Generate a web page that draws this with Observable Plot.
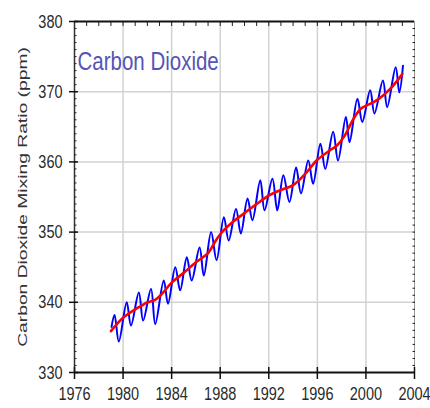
<!DOCTYPE html>
<html><head><meta charset="utf-8">
<script src="https://cdn.jsdelivr.net/npm/d3@7"></script>
<script src="https://cdn.jsdelivr.net/npm/@observablehq/plot@0.6"></script>
<style>
html,body{margin:0;padding:0;background:#fff;}
#chart{width:430px;height:408px;overflow:hidden;}
</style></head><body><div id="chart"></div>
<script>
const title = "Carbon Dioxide";
const yLabel = "Carbon Dioxide Mixing Ratio (ppm)";
const xDomain = [1976, 2004];
const yDomain = [330, 380];
const xTicks = [1976, 1980, 1984, 1988, 1992, 1996, 2000, 2004];
const yTicks = [330, 340, 350, 360, 370, 380];
const xGrid = [1980, 1984, 1988, 1992, 1996, 2000];
const yGrid = [340, 350, 360, 370];
const xMinor = d3.range(1977, 2004);
const yMinor = d3.range(331, 380);

// seasonal (blue) curve: turning points
const seasonalYears = [1979.05,1979.3,1979.65,1980.3,1980.65,1981.3,1981.65,1982.3,1982.65,1983.35,1983.7,
  1984.3,1984.7,1985.25,1985.65,1986.3,1986.65,1987.25,1987.7,1988.3,1988.7,1989.3,1989.7,1990.25,1990.65,
  1991.3,1991.65,1992.3,1992.7,1993.2,1993.7,1994.25,1994.65,1995.25,1995.65,1996.25,1996.65,1997.3,1997.7,
  1998.35,1998.65,1999.3,1999.7,2000.35,2000.7,2001.4,2001.75,2002.45,2002.75,2003.05];
const seasonalCO2 = [336.5,338.2,334.4,340.0,336.7,341.4,337.4,341.9,336.9,343.1,339.8,
  345.0,341.7,346.4,343.1,347.8,343.8,350.0,346.0,352.1,348.8,353.3,349.8,354.8,351.7,
  357.4,353.1,357.6,353.1,358.1,354.3,359.2,355.5,360.2,356.9,362.6,359.0,364.3,360.2,
  366.4,362.8,369.0,365.7,370.2,366.9,371.6,367.8,373.5,369.9,373.7];

// deseasonalized trend (red)
const trendYears = [1979.0,1980.0,1981.0,1981.5,1982.0,1982.6,1983.2,1984.0,1985.0,1986.0,1987.0,1987.5,1988.0,
  1989.0,1990.0,1991.0,1992.0,1993.0,1994.0,1995.0,1996.0,1997.0,1997.6,1998.2,1999.0,1999.6,2000.5,2001.0,2002.0,2003.0];
const trendCO2 = [335.9,337.8,339.0,339.5,340.0,340.3,341.2,342.8,344.2,345.7,347.0,348.4,349.7,
  351.4,352.7,354.0,355.2,356.0,356.7,358.3,360.3,361.6,362.3,363.6,366.2,367.6,368.4,368.9,370.4,372.5];

const seasonal = seasonalYears.map((t, i) => ({t, v: seasonalCO2[i]}));
const trend = trendYears.map((t, i) => ({t, v: trendCO2[i]}));
const none = () => "";

const chart = Plot.plot({
  width: 430, height: 408,
  marginLeft: 74, marginRight: 16, marginTop: 21, marginBottom: 36,
  style: {fontFamily: "'Liberation Sans', Arial, sans-serif", background: "#fff"},
  x: {domain: xDomain},
  y: {domain: yDomain},
  marks: [
    Plot.gridX(xGrid, {stroke: "#d2d2d2", strokeOpacity: 1, strokeWidth: 1.5}),
    Plot.gridY(yGrid, {stroke: "#d2d2d2", strokeOpacity: 1, strokeWidth: 1.5}),
    Plot.ruleX([xDomain[1]], {stroke: "#999", strokeWidth: 1}),
    Plot.ruleX([xDomain[0]], {stroke: "#333", strokeWidth: 1.5}),
    Plot.axisY(yMinor, {anchor: "left", tickSize: 2.5, dx: 2.5, tickFormat: none, label: null, stroke: "#222"}),
    Plot.axisY(yMinor, {anchor: "right", tickSize: 2.5, dx: -2.5, tickFormat: none, label: null, stroke: "#222"}),
    Plot.axisY(yTicks, {anchor: "left", tickSize: 9, dx: 4, tickFormat: none, label: null, stroke: "#111", strokeWidth: 1.5}),
    Plot.axisX(xMinor, {anchor: "top", tickSize: 4, dy: 4, tickFormat: none, label: null, stroke: "#222"}),
    Plot.axisX(xTicks, {anchor: "bottom", tickSize: 12, dy: -5, tickFormat: none, label: null, stroke: "#111", strokeWidth: 1.5}),
    Plot.ruleY([yDomain[1]], {stroke: "#111", strokeWidth: 2}),
    Plot.ruleY([yDomain[0]], {stroke: "#111", strokeWidth: 2}),
    Plot.text(yTicks, {y: d => d, text: d => String(d), frameAnchor: "left", dx: -12, textAnchor: "end", fontSize: 14.5, fill: "#2a2a2a"}),
    Plot.text(xTicks, {x: d => d, text: d => String(d), frameAnchor: "bottom", dy: 27, fontSize: 14.5, fill: "#2a2a2a"}),
    Plot.text([yLabel], {frameAnchor: "left", dx: -52, rotate: -90, textAnchor: "middle", fontSize: 13.5, fill: "#333"}),
    Plot.text([title], {frameAnchor: "top-left", dx: 3, dy: 30, textAnchor: "start", fontSize: 20.5, fill: "#5555b5"}),
    Plot.line(seasonal, {x: "t", y: "v", stroke: "#0000ff", strokeWidth: 2, curve: "catmull-rom"}),
    Plot.line(trend, {x: "t", y: "v", stroke: "#ff0000", strokeWidth: 2.6, curve: "catmull-rom"})
  ]
});
document.getElementById("chart").appendChild(chart);

// the reference glyphs are drawn taller than wide: stretch text along the page's vertical
const k = 1.3;
const labelLength = 300;
chart.querySelectorAll("text").forEach(t => {
  const tr = t.getAttribute("transform") || "";
  if (tr.includes("rotate")) {
    const len = t.getComputedTextLength() || 210;
    t.setAttribute("transform", `${tr} scale(${labelLength / len},1)`);
    return;
  }
  let extra = "";
  const xa = t.getAttribute("x"), ya = t.getAttribute("y");
  if (xa !== null && xa !== "" && !isNaN(+xa)) { extra += ` translate(${+xa},0)`; t.removeAttribute("x"); }
  if (ya !== null && ya !== "" && !isNaN(+ya)) { extra += ` translate(0,${+ya})`; t.removeAttribute("y"); }
  t.setAttribute("transform", `${tr}${extra} scale(1,${k})`);
});
</script></body></html>
